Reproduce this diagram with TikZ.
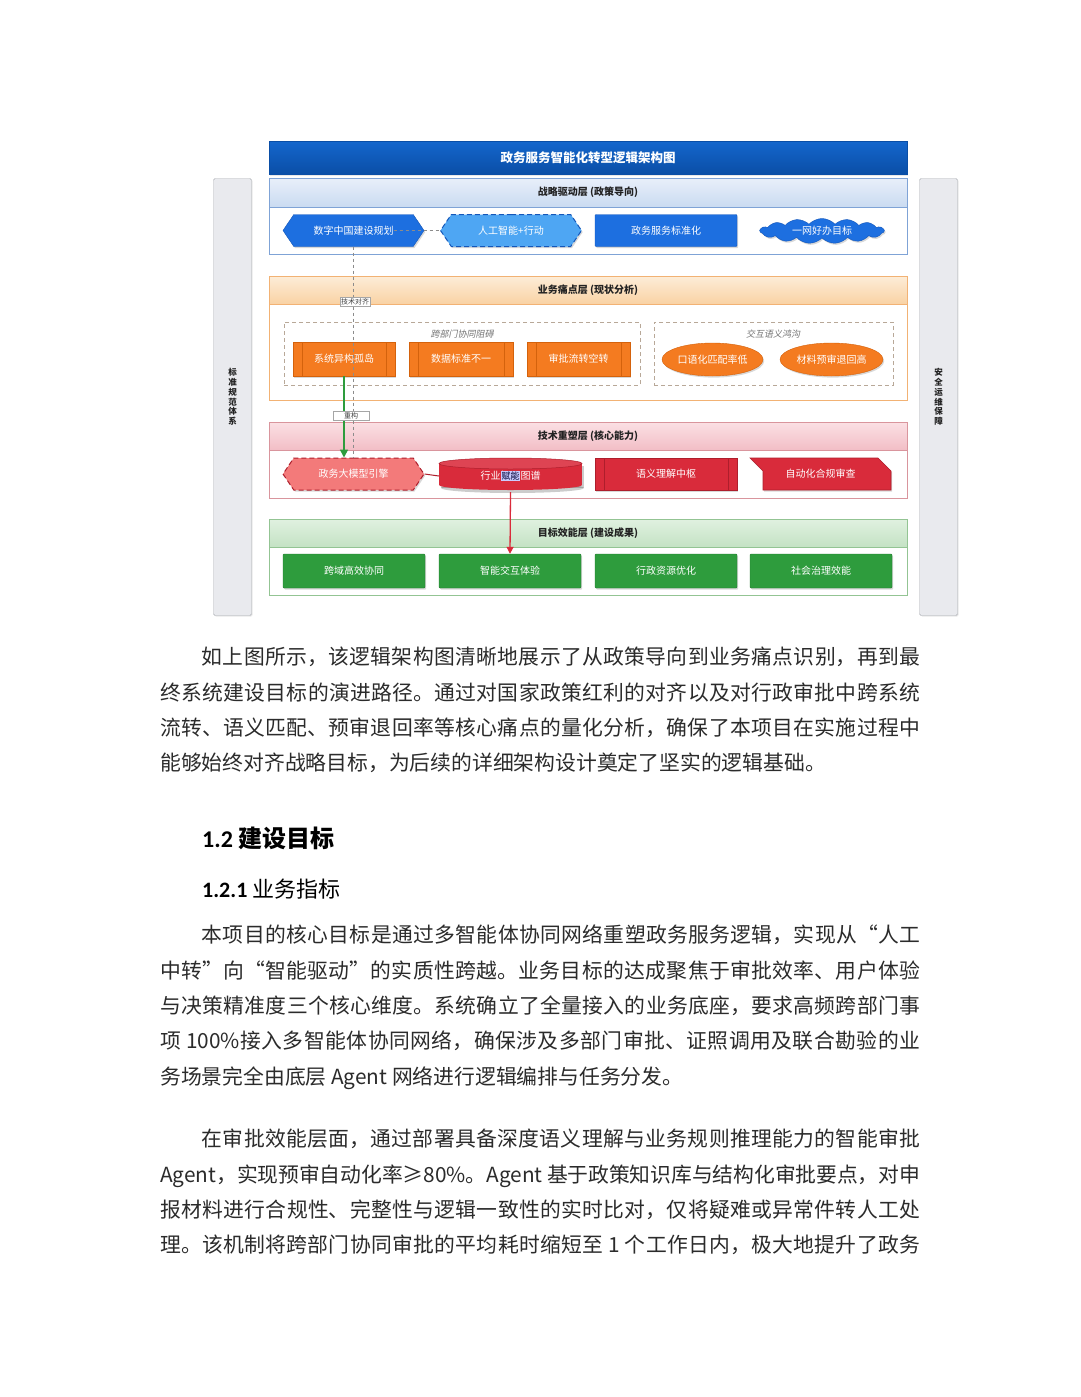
\documentclass[tikz,border=0pt]{standalone}
\usepackage{fontspec}
\setmainfont{Noto Sans CJK SC}
\newfontfamily\cjkit[FakeSlant=0.2]{Noto Sans CJK SC}
\newfontfamily\numfont{Carlito}
\usetikzlibrary{shapes.geometric,shapes.symbols,shadows,arrows.meta}
\XeTeXlinebreaklocale "zh"
\XeTeXlinebreakskip=0pt plus 3pt minus 0.6pt
\tolerance=9999
\hbadness=10000
\hfuzz=20pt
\definecolor{ttop}{HTML}{1466CC}
\definecolor{tbot}{HTML}{0A4EA6}
\definecolor{bhdA}{HTML}{E8EFFA}
\definecolor{bhdB}{HTML}{CADBF1}
\definecolor{bline}{HTML}{7FA3D6}
\definecolor{bnode}{HTML}{1D6FE0}
\definecolor{bnodeline}{HTML}{1457BA}
\definecolor{ainode}{HTML}{4EA6F3}
\definecolor{ohdA}{HTML}{FDEDD8}
\definecolor{ohdB}{HTML}{F9D2A4}
\definecolor{oline}{HTML}{F2B274}
\definecolor{onode}{HTML}{F47B20}
\definecolor{onodeline}{HTML}{D4620C}
\definecolor{rhdA}{HTML}{FBE0E4}
\definecolor{rhdB}{HTML}{F2BEC6}
\definecolor{rline}{HTML}{D9959D}
\definecolor{rnode}{HTML}{D92B3B}
\definecolor{rnodeline}{HTML}{AE1E2C}
\definecolor{enode}{HTML}{F37A7A}
\definecolor{ghdA}{HTML}{E0F1E0}
\definecolor{ghdB}{HTML}{C4E2C4}
\definecolor{gline}{HTML}{93C493}
\definecolor{gnode}{HTML}{2E9C3D}
\definecolor{gnodeline}{HTML}{237A2F}
\definecolor{barfill}{HTML}{E9EAEE}
\definecolor{barline}{HTML}{A9ACB2}
\definecolor{grpline}{HTML}{B8A898}
\definecolor{bodytxt}{HTML}{2B2B2B}
\definecolor{hdtxt}{HTML}{222222}
\newcommand\ndfont{\fontsize{10}{12}\selectfont}
\newcommand\hdfont{\fontsize{10}{12}\selectfont\bfseries}
\tikzset{
  softshadow/.style={drop shadow={opacity=0.18,shadow xshift=1pt,shadow yshift=-1pt}},
  nodeshadow/.style={drop shadow={opacity=0.3,shadow xshift=1.2pt,shadow yshift=-1.6pt}},
  sidebar/.style={draw=barline,fill=barfill,rounded corners=1.5pt,minimum width=38pt,minimum height=437pt,
    align=center,font=\fontsize{8.5}{9.8}\selectfont\bfseries,text=hdtxt,softshadow,inner sep=0pt},
  titlebar/.style={draw=tbot,top color=ttop,bottom color=tbot,minimum width=638pt,minimum height=33pt,
    text=white,font=\fontsize{12.5}{14}\selectfont\bfseries,inner sep=0pt,softshadow},
  layerhd/.style n args={3}{draw=#1,top color=#2,bottom color=#3,minimum width=638pt,minimum height=28pt,
    inner sep=0pt,font=\hdfont,text=hdtxt,softshadow},
  layerbox/.style={draw=#1,fill=white,minimum width=638pt,inner sep=0pt,softshadow},
  grp/.style={draw=grpline,dashed,line width=0.8pt,dash pattern=on 4pt off 3pt,inner sep=0pt},
  grplab/.style={font=\cjkit\fontsize{9}{10}\selectfont,text=black!55,inner sep=0pt},
  nd/.style={inner sep=0pt,text=white,font=\ndfont,nodeshadow},
  hexnode/.style={nd,signal,signal to=west and east,signal pointer angle=112},
  rectnode/.style={nd,rectangle,rounded corners=1pt},
  ellnode/.style={nd,ellipse},
  procnode/.style 2 args={nd,rectangle,fill=#1,draw=#2,
    path picture={\draw[#2,line width=0.7pt]
      ([xshift=9pt]path picture bounding box.north west) -- ([xshift=9pt]path picture bounding box.south west)
      ([xshift=-9pt]path picture bounding box.north east) -- ([xshift=-9pt]path picture bounding box.south east);}},
  plainnode/.style={inner sep=0pt,text=white,font=\ndfont},
  graydash/.style={draw=black!45,line width=0.8pt,dash pattern=on 3pt off 3pt},
  greenarr/.style={draw=gnode,line width=1.6pt,-{Triangle[length=8pt,width=8pt]}},
  redarr/.style={draw=rnode,line width=1.3pt,-{Triangle[length=7pt,width=7pt]}},
  redline/.style={draw=rnodeline,line width=1pt},
  elabel/.style={fill=white,draw=black!35,line width=0.4pt,font=\fontsize{7}{8}\selectfont,text=black!75,inner sep=1.2pt},
  para/.style={anchor=north west,inner sep=0pt,text width=760pt,align=justify,
    font=\fontsize{20.8}{35.3}\selectfont,text=bodytxt},
}
\begin{document}
\begin{tikzpicture}[x=1pt,y=-1pt]
\useasboundingbox[fill=white] (0,0) rectangle (1080,1397);

% side bars
\node[sidebar] (lbar) at (232.5,397) {标\\准\\规\\范\\体\\系};
\node[sidebar] (rbar) at (938.5,397) {安\\全\\运\\维\\保\\障};

% title
\node[titlebar] (title) at (588,158) {政务服务智能化转型逻辑架构图};

% layers
\node[layerbox=bline,minimum height=47pt] (b1) at (588,230.5) {};
\node[layerhd={bline}{bhdA}{bhdB},minimum height=29pt] (h1) at (588,192.5) {战略驱动层 (政策导向)};
\node[layerbox=oline,minimum height=96pt] (b2) at (588,352) {};
\node[layerhd={oline}{ohdA}{ohdB}] (h2) at (588,290) {业务痛点层 (现状分析)};
\node[layerbox=rline,minimum height=48pt] (b3) at (588,474) {};
\node[layerhd={rline}{rhdA}{rhdB}] (h3) at (588,436) {技术重塑层 (核心能力)};
\node[layerbox=gline,minimum height=48pt] (b4) at (588,571) {};
\node[layerhd={gline}{ghdA}{ghdB}] (h4) at (588,533) {目标效能层 (建设成果)};

% groups
\node[grp,minimum width=356pt,minimum height=63pt] (g1) at (462,353.5) {};
\node[grplab] (g1l) at (462,334) {跨部门协同阻碍};
\node[grp,minimum width=239pt,minimum height=63pt] (g2) at (773.5,353.5) {};
\node[grplab] (g2l) at (773,334) {交互语义鸿沟};

% row 1
\node[hexnode,fill=bnode,draw=bnodeline,minimum width=141pt,minimum height=32pt] (dz) at (353.5,230.5) {数字中国建设规划};
\node[hexnode,fill=ainode,draw=bnodeline,dashed,dash pattern=on 5pt off 3pt,line width=1pt,minimum width=141pt,minimum height=32pt] (ai) at (511,230.5) {人工智能+行动};
\node[rectnode,fill=bnode,draw=bnodeline,minimum width=142pt,minimum height=32pt] (std) at (666,230.5) {政务服务标准化};
\node[nd,cloud,cloud puffs=15,cloud puff arc=95,cloud ignores aspect,fill=bnode,draw=bnodeline,minimum width=124pt,minimum height=25pt] (yw) at (822,231) {一网好办目标};

% row 2
\node[procnode={onode}{onodeline},minimum width=102pt,minimum height=34pt] (silo) at (344,359) {系统异构孤岛};
\node[procnode={onode}{onodeline},minimum width=104pt,minimum height=34pt] (data) at (461,359) {数据标准不一};
\node[procnode={onode}{onodeline},minimum width=103pt,minimum height=34pt] (flow) at (578.5,359) {审批流转空转};
\node[ellnode,fill=onode,draw=onodeline,minimum width=101pt,minimum height=33pt] (oral) at (712.5,359.5) {口语化匹配率低};
\node[ellnode,fill=onode,draw=onodeline,minimum width=103pt,minimum height=33pt] (mat) at (831.5,359.5) {材料预审退回高};

% row 3
\node[hexnode,fill=enode,draw=rnodeline,dashed,dash pattern=on 5pt off 3pt,line width=1pt,minimum width=141pt,minimum height=32pt] (engine) at (353.5,474) {政务大模型引擎};
\fill[black,opacity=0.2] (441,466) rectangle (584,488);
\fill[black,opacity=0.2] (512.5,488) ellipse [x radius=71.5, y radius=5];
\fill[rnode] (439,463.5) rectangle (582,485);
\fill[rnode] (510.5,485) ellipse [x radius=71.5, y radius=5];
\filldraw[fill=rnode!88!white,draw=rnodeline,line width=0.5pt] (510.5,463.5) ellipse [x radius=71.5, y radius=5.5];
\node[plainnode,minimum width=143pt,minimum height=32pt] (kg) at (510.5,476) {行业知识图谱};
\node[procnode={rnode}{rnodeline},minimum width=142pt,minimum height=32pt] (sem) at (666,474) {语义理解中枢};
\filldraw[fill=rnode,draw=rnodeline,line width=0.6pt,nodeshadow] (750,458) -- (878,458) -- (891,471) -- (891,490) -- (763,490) -- (763,471) -- cycle;
\node[plainnode,minimum width=141pt,minimum height=32pt] (auto) at (820.5,474) {自动化合规审查};

% row 4
\node[rectnode,fill=gnode,draw=gnodeline,minimum width=142pt,minimum height=34pt] (cross) at (354,571) {跨域高效协同};
\node[rectnode,fill=gnode,draw=gnodeline,minimum width=142pt,minimum height=34pt] (exp) at (510,571) {智能交互体验};
\node[rectnode,fill=gnode,draw=gnodeline,minimum width=142pt,minimum height=34pt] (res) at (666,571) {行政资源优化};
\node[rectnode,fill=gnode,draw=gnodeline,minimum width=142pt,minimum height=34pt] (soc) at (821,571) {社会治理效能};

% connectors
\draw[graydash] ([xshift=40pt]dz.center) -- (ai.west);
\draw[graydash] (dz.south) -- (engine.north);
\draw[greenarr] (silo.south) -- (silo.south |- engine.north);
\draw[redline] (engine.east) -- (kg.west);
\draw[redarr] (kg.south) -- (exp.north);

% connector labels
\node[elabel] (l1) at (355,302) {技术对齐};
\node[elabel,minimum width=36pt] (l2) at (351,416) {重构};
\node[fill=white!80!blue,text=black!80!blue,font=\fontsize{9}{10}\selectfont,inner sep=0.8pt] (l3) at (510.5,476) {赋能};

% body text
\node[para] (p1) at (160,647) {\hspace*{2em}如上图所示，该逻辑架构图清晰地展示了从政策导向到业务痛点识别，再到最\linebreak
终系统建设目标的演进路径。通过对国家政策红利的对齐以及对行政审批中跨系统\linebreak
流转、语义匹配、预审退回率等核心痛点的量化分析，确保了本项目在实施过程中\linebreak
能够始终对齐战略目标，为后续的详细架构设计奠定了坚实的逻辑基础。};

\node[anchor=west,inner sep=0pt,text=black] (h12) at (202,838) {\fontsize{24}{28}\selectfont\bfseries{\numfont 1.2} 建设目标};
\node[anchor=west,inner sep=0pt,text=black] (h121) at (202,889) {\fontsize{22}{26}\selectfont{\numfont\bfseries 1.2.1} 业务指标};

\node[para] (p2) at (160,925) {\hspace*{2em}本项目的核心目标是通过多智能体协同网络重塑政务服务逻辑，实现从“人工\linebreak
中转”向“智能驱动”的实质性跨越。业务目标的达成聚焦于审批效率、用户体验\linebreak
与决策精准度三个核心维度。系统确立了全量接入的业务底座，要求高频跨部门事\linebreak
项 100\%接入多智能体协同网络，确保涉及多部门审批、证照调用及联合勘验的业\linebreak
务场景完全由底层 Agent 网络进行逻辑编排与任务分发。};

\node[para] (p3) at (160,1129) {\hspace*{2em}在审批效能层面，通过部署具备深度语义理解与业务规则推理能力的智能审批\linebreak
Agent，实现预审自动化率≥80\%。Agent 基于政策知识库与结构化审批要点，对申\linebreak
报材料进行合规性、完整性与逻辑一致性的实时比对，仅将疑难或异常件转人工处\linebreak
理。该机制将跨部门协同审批的平均耗时缩短至 1 个工作日内，极大地提升了政务\linebreak\hbox{}};
\end{tikzpicture}
\end{document}
